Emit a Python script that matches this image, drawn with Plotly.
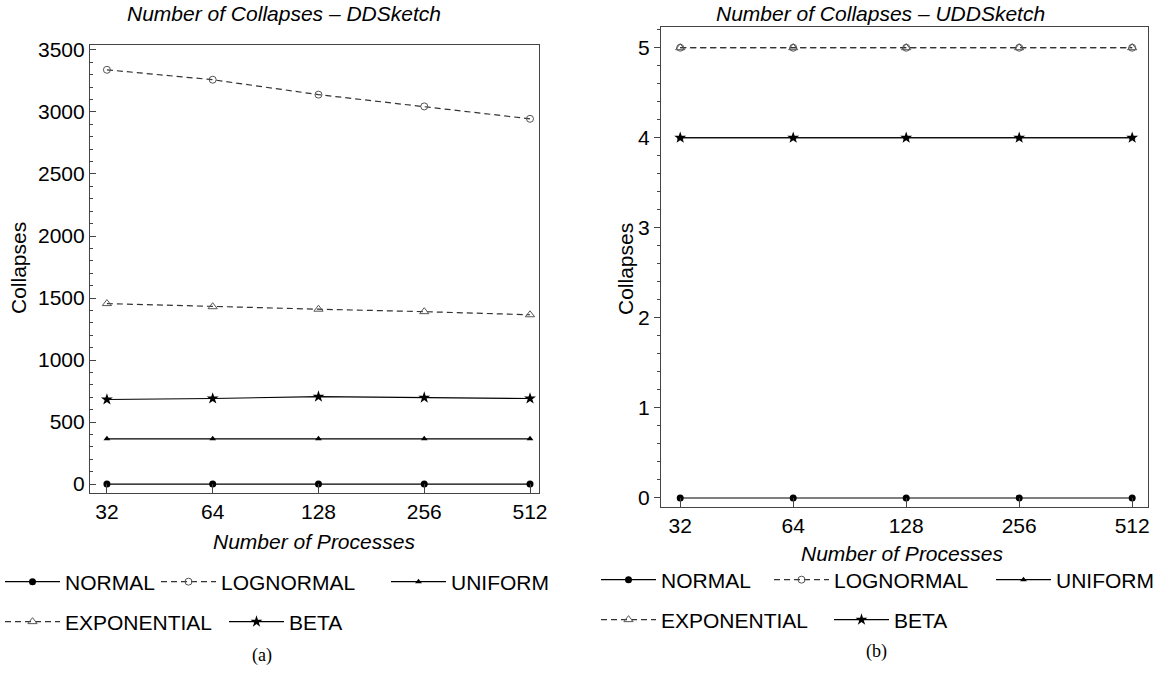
import plotly.graph_objects as go

processes = ["32", "64", "128", "256", "512"]
series_names = ["NORMAL", "LOGNORMAL", "UNIFORM", "EXPONENTIAL", "BETA"]

dd_normal = [0, 0, 0, 0, 0]
dd_lognormal = [3340, 3260, 3140, 3045, 2945]
dd_uniform = [365, 365, 365, 365, 365]
dd_exponential = [1455, 1430, 1410, 1390, 1365]
dd_beta = [682, 690, 705, 697, 690]

udd_normal = [0, 0, 0, 0, 0]
udd_lognormal = [5, 5, 5, 5, 5]
udd_uniform = [4, 4, 4, 4, 4]
udd_exponential = [5, 5, 5, 5, 5]
udd_beta = [4, 4, 4, 4, 4]

FONT = "Liberation Sans, Arial, sans-serif"
DASH = "6px,4px"
styles = {
    "NORMAL": dict(line=dict(color="black", width=1.2), marker=dict(symbol="circle", size=7, color="black")),
    "LOGNORMAL": dict(line=dict(color="#333", width=1.2, dash=DASH),
                      marker=dict(symbol="circle-open", size=7, color="#555", line=dict(width=1))),
    "UNIFORM": dict(line=dict(color="black", width=1.2), marker=dict(symbol="triangle-up", size=6, color="black")),
    "EXPONENTIAL": dict(line=dict(color="#333", width=1.2, dash=DASH),
                        marker=dict(symbol="triangle-up-open", size=8, color="#555", line=dict(width=1))),
    "BETA": dict(line=dict(color="black", width=1.2), marker=dict(symbol="star", size=9, color="black")),
}

W, H = 1170, 677
def px_x(p):
    return p / W
def px_y(p):
    return 1 - p / H

# legend entry anchor points (symbol start x, row centre y) in pixels
legend_pos_a = [(-5, 582), (156, 582), (386, 582), (-5, 622), (224, 622)]
legend_pos_b = [(596, 580), (769, 580), (991, 580), (596, 620), (829, 620)]

fig = go.Figure()

panel_a = [dd_normal, dd_lognormal, dd_uniform, dd_exponential, dd_beta]
panel_b = [udd_normal, udd_lognormal, udd_uniform, udd_exponential, udd_beta]

legend_layout = {}
LEG_FONT = dict(family=FONT, size=21, color="black")
k = 0
for axes, data, positions in (("x|y", panel_a, legend_pos_a), ("x2|y2", panel_b, legend_pos_b)):
    xa, ya = axes.split("|")
    for name, ys, (lx, ly) in zip(series_names, data, positions):
        k += 1
        key = "legend" if k == 1 else f"legend{k}"
        fig.add_trace(go.Scatter(x=processes, y=ys, name=name, mode="lines+markers",
                                 xaxis=xa, yaxis=ya, legend=key, **styles[name]))
        legend_layout[key] = dict(orientation="h", font=LEG_FONT, bgcolor="rgba(0,0,0,0)",
                                  itemwidth=55, xanchor="left", yanchor="middle",
                                  xref="container", yref="container",
                                  x=max(lx, 0) / W, y=px_y(ly),
                                  itemclick=False, itemdoubleclick=False)

axis_common = dict(showline=True, linecolor="#444", linewidth=1.2, mirror=True,
                   showgrid=False, zeroline=False,
                   tickfont=dict(family=FONT, size=21, color="black"))

fig.update_layout(
    width=W, height=H,
    margin=dict(l=0, r=0, t=0, b=0, autoexpand=False),
    plot_bgcolor="white", paper_bgcolor="white",
    font=dict(family=FONT, color="black"),
    xaxis=dict(domain=[px_x(90), px_x(539)], anchor="y", type="category",
               range=[-0.16, 4.085], ticks="inside", ticklen=9, tickcolor="#444",
               **axis_common),
    yaxis=dict(domain=[px_y(493), px_y(45)], anchor="x", range=[-72, 3540],
               tickvals=[0, 500, 1000, 1500, 2000, 2500, 3000, 3500],
               ticks="inside", ticklen=6, tickcolor="#444",
               minor=dict(dtick=100, ticks="inside", ticklen=3, tickcolor="#444"),
               **axis_common),
    xaxis2=dict(domain=[px_x(661), px_x(1148)], anchor="y2", type="category",
                range=[-0.17, 4.14], ticks="inside", ticklen=9, tickcolor="#444",
                **axis_common),
    yaxis2=dict(domain=[px_y(507), px_y(27)], anchor="x2", range=[-0.1, 5.23],
                tickvals=[0, 1, 2, 3, 4, 5],
                ticks="outside", ticklen=6, tickcolor="#444",
                minor=dict(dtick=0.2, ticks="outside", ticklen=3, tickcolor="#444"),
                **axis_common),
    showlegend=True,
    **legend_layout,
)

ann_title = dict(family=FONT, size=21, color="black", style="italic")
annotations = [
    dict(text="Number of Collapses – DDSketch", x=px_x(284), y=px_y(13), font=ann_title),
    dict(text="Number of Collapses – UDDSketch", x=px_x(880), y=px_y(13), font=ann_title),
    dict(text="Number of Processes", x=px_x(314), y=px_y(541), font=ann_title),
    dict(text="Number of Processes", x=px_x(902), y=px_y(553), font=ann_title),
    dict(text="Collapses", x=px_x(19), y=px_y(268), textangle=-90,
         font=dict(family=FONT, size=21, color="black")),
    dict(text="Collapses", x=px_x(625), y=px_y(269), textangle=-90,
         font=dict(family=FONT, size=21, color="black")),
    dict(text="(a)", x=px_x(262), y=px_y(655),
         font=dict(family="Liberation Serif, DejaVu Serif, serif", size=18, color="black")),
    dict(text="(b)", x=px_x(876), y=px_y(651),
         font=dict(family="Liberation Serif, DejaVu Serif, serif", size=18, color="black")),
]
for a in annotations:
    a.update(xref="paper", yref="paper", showarrow=False, xanchor="center", yanchor="middle")
fig.update_layout(annotations=annotations)

fig.write_html("out.html", config={"displayModeBar": False},
               post_script="document.body.style.margin='0px';")
